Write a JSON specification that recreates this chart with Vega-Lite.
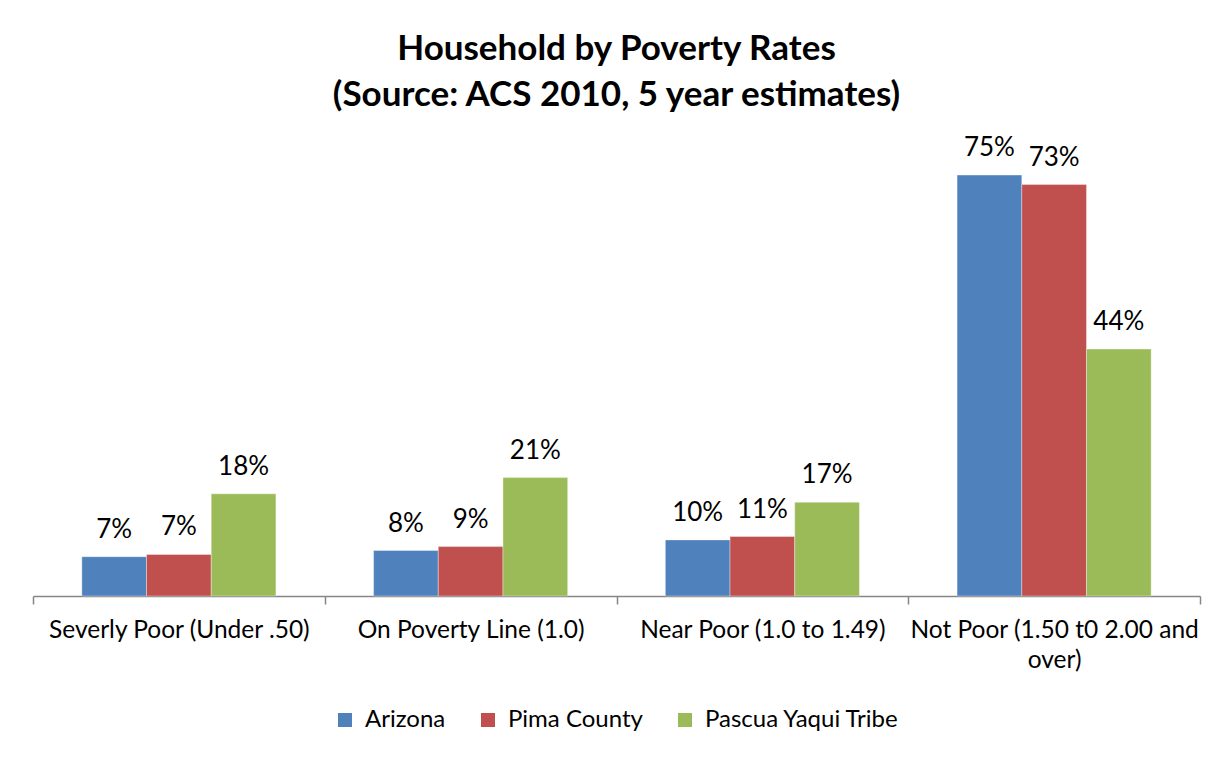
{
  "$schema": "https://vega.github.io/schema/vega-lite/v6.json",
  "width": 1167,
  "height": 449,
  "autosize": {"type": "none"},
  "padding": {"left": 33, "top": 147, "right": 26, "bottom": 164},
  "background": "#ffffff",
  "title": {
    "text": ["Household by Poverty Rates", "(Source: ACS 2010, 5 year estimates)"],
    "font": "Lato",
    "fontSize": 35,
    "fontWeight": "bold",
    "color": "#000000",
    "anchor": "middle",
    "lineHeight": 46,
    "offset": 22
  },
  "data": {
    "values": [
      {"category": "Severly Poor (Under .50)", "series": "Arizona", "value": 0.070},
      {"category": "Severly Poor (Under .50)", "series": "Pima County", "value": 0.074},
      {"category": "Severly Poor (Under .50)", "series": "Pascua Yaqui Tribe", "value": 0.182},
      {"category": "On Poverty Line (1.0)", "series": "Arizona", "value": 0.081},
      {"category": "On Poverty Line (1.0)", "series": "Pima County", "value": 0.088},
      {"category": "On Poverty Line (1.0)", "series": "Pascua Yaqui Tribe", "value": 0.211},
      {"category": "Near Poor (1.0 to 1.49)", "series": "Arizona", "value": 0.100},
      {"category": "Near Poor (1.0 to 1.49)", "series": "Pima County", "value": 0.106},
      {"category": "Near Poor (1.0 to 1.49)", "series": "Pascua Yaqui Tribe", "value": 0.167},
      {"category": "Not Poor (1.50 t0 2.00 and over)", "series": "Arizona", "value": 0.750},
      {"category": "Not Poor (1.50 t0 2.00 and over)", "series": "Pima County", "value": 0.733},
      {"category": "Not Poor (1.50 t0 2.00 and over)", "series": "Pascua Yaqui Tribe", "value": 0.440}
    ]
  },
  "encoding": {
    "x": {
      "field": "category",
      "type": "nominal",
      "sort": null,
      "title": null,
      "scale": {"paddingInner": 0, "paddingOuter": 0},
      "axis": {
        "labelAngle": 0,
        "labelFont": "Lato",
        "labelFontSize": 24.5,
        "labelColor": "#000000",
        "labelLimit": 400,
        "labelLineHeight": 30,
        "labelPadding": 14,
        "labelExpr": "datum.label == 'Not Poor (1.50 t0 2.00 and over)' ? ['Not Poor (1.50 t0 2.00 and', 'over)'] : datum.label",
        "tickBand": "extent",
        "tickSize": 8,
        "tickColor": "#868686",
        "domainColor": "#868686",
        "domainWidth": 1.5,
        "tickWidth": 1.5,
        "grid": false
      }
    },
    "xOffset": {
      "field": "series",
      "type": "nominal",
      "sort": ["Arizona", "Pima County", "Pascua Yaqui Tribe"],
      "scale": {"paddingInner": 0, "paddingOuter": 0.755}
    },
    "y": {
      "field": "value",
      "type": "quantitative",
      "scale": {"domain": [0, 0.8]},
      "axis": null
    }
  },
  "layer": [
    {
      "mark": {"type": "bar", "stroke": "#ffffff", "strokeWidth": 0.6, "strokeOpacity": 0.6},
      "encoding": {
        "color": {
          "field": "series",
          "type": "nominal",
          "sort": ["Arizona", "Pima County", "Pascua Yaqui Tribe"],
          "scale": {
            "domain": ["Arizona", "Pima County", "Pascua Yaqui Tribe"],
            "range": ["#4F81BD", "#C0504D", "#9BBB59"]
          },
          "legend": {
            "orient": "bottom",
            "direction": "horizontal",
            "title": null,
            "labelFont": "Lato",
            "labelFontSize": 24,
            "labelColor": "#000000",
            "labelLimit": 400,
            "symbolType": "square",
            "symbolSize": 196,
            "symbolStrokeWidth": 0,
            "columnPadding": 30,
            "labelOffset": 8,
            "offset": 36
          }
        }
      }
    },
    {
      "mark": {"type": "text", "font": "Lato", "fontSize": 26, "color": "#000000", "baseline": "alphabetic", "dy": -19},
      "encoding": {
        "text": {"field": "value", "type": "quantitative", "format": ".0%"}
      }
    }
  ],
  "config": {
    "view": {"stroke": null},
    "legend": {"layout": {"bottom": {"anchor": "middle"}}}
  }
}
